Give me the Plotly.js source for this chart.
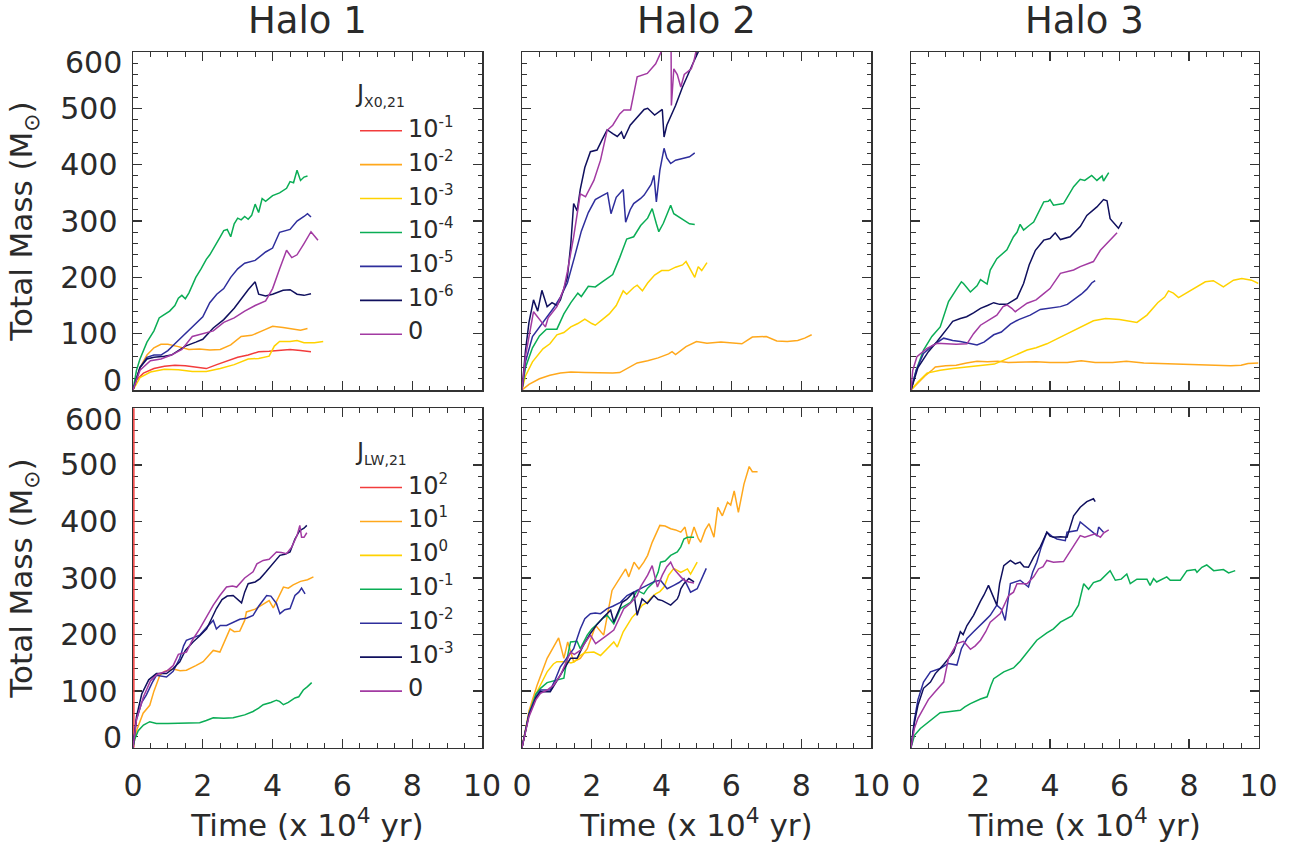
<!DOCTYPE html>
<html>
<head>
<meta charset="utf-8">
<script src="https://cdn.plot.ly/plotly-3.0.1.min.js"></script>
<style>body{margin:0;background:#fff}#chart{width:1297px;height:846px}</style>
</head>
<body>
<div id="chart"></div>
<script>
// ---------- DATA: [time (x10^4 yr), total mass (Msun)] ----------
// Top row: J_X0,21 runs
const H1_X_1em1 = [[0,0],[0.1,18],[0.3,30],[0.6,38],[0.9,42],[1.2,44],[1.5,43],[1.8,40],[2.1,38],[2.4,45],[2.7,52],[3.0,58],[3.3,62],[3.6,68],[3.9,69],[4.2,71],[4.5,72],[4.8,70],[5.1,68]];
const H1_X_1em2 = [[0,0],[0.2,40],[0.4,62],[0.6,75],[0.8,81],[1.0,81],[1.3,77],[1.6,72],[1.9,73],[2.2,71],[2.5,72],[2.8,80],[3.1,95],[3.4,97],[3.7,105],[4.0,113],[4.3,111],[4.6,108],[4.8,106],[5.0,109]];
const H1_X_1em3 = [[0,0],[0.2,22],[0.5,32],[0.9,37],[1.3,36],[1.7,33],[2.1,33],[2.5,38],[2.9,45],[3.3,55],[3.6,56],[3.9,60],[4.05,78],[4.2,86],[4.5,86],[4.7,88],[4.9,84],[5.2,84],[5.45,86]];
const H1_X_1em4 = [[0,0],[0.1,35],[0.2,55],[0.4,85],[0.6,105],[0.75,128],[0.85,132],[1.05,140],[1.2,150],[1.3,163],[1.4,168],[1.5,162],[1.6,172],[1.8,200],[1.95,215],[2.1,232],[2.2,240],[2.3,250],[2.4,260],[2.5,272],[2.6,283],[2.7,285],[2.8,272],[2.9,295],[3.0,305],[3.1,302],[3.2,308],[3.3,303],[3.4,310],[3.5,330],[3.6,315],[3.7,340],[3.8,335],[3.9,340],[4.0,345],[4.2,350],[4.4,358],[4.5,370],[4.6,368],[4.7,390],[4.8,372],[4.9,378],[5.0,380]];
const H1_X_1em5 = [[0,0],[0.2,40],[0.4,58],[0.6,62],[0.8,62],[1.0,70],[1.2,82],[1.5,100],[1.8,118],[2.0,130],[2.2,155],[2.4,170],[2.6,180],[2.8,200],[3.0,215],[3.2,225],[3.5,230],[3.8,245],[4.0,252],[4.2,280],[4.5,285],[4.7,300],[4.9,308],[5.0,313],[5.1,307]];
const H1_X_1em6 = [[0,0],[0.2,40],[0.4,55],[0.6,58],[0.9,60],[1.1,62],[1.3,70],[1.5,78],[1.8,85],[2.0,90],[2.3,110],[2.6,125],[2.9,145],[3.1,162],[3.3,178],[3.5,192],[3.6,170],[3.8,167],[4.0,170],[4.3,177],[4.5,178],[4.7,170],[4.9,168],[5.1,171]];
const H1_X_0 = [[0,0],[0.2,35],[0.5,52],[0.8,55],[1.1,62],[1.4,72],[1.7,95],[2.0,100],[2.3,105],[2.6,120],[2.9,128],[3.2,140],[3.5,150],[3.8,158],[4.0,180],[4.2,215],[4.4,248],[4.55,235],[4.7,240],[4.9,260],[5.1,281],[5.3,266]];

const H2_X_1em2 = [[0,0],[0.2,10],[0.5,20],[0.8,26],[1.1,30],[1.4,32],[1.8,31],[2.2,30],[2.6,30],[2.8,31],[3.0,38],[3.3,48],[3.6,52],[3.9,57],[4.2,64],[4.3,68],[4.4,63],[4.7,77],[5.0,86],[5.3,83],[5.7,85],[6.0,83],[6.3,82],[6.6,94],[7.0,95],[7.3,87],[7.6,86],[7.9,88],[8.1,92],[8.3,98]];
const H2_X_1em3 = [[0,0],[0.1,25],[0.3,50],[0.6,73],[0.8,82],[1.0,98],[1.2,102],[1.4,112],[1.6,118],[1.8,126],[2.0,118],[2.1,115],[2.3,125],[2.5,135],[2.7,150],[2.9,176],[3.0,170],[3.2,182],[3.3,186],[3.45,176],[3.6,190],[3.8,204],[4.0,212],[4.2,212],[4.4,218],[4.6,222],[4.7,228],[4.85,212],[4.95,200],[5.05,219],[5.15,212],[5.3,226]];
const H2_X_1em4 = [[0,0],[0.1,40],[0.3,75],[0.5,96],[0.7,108],[1.0,108],[1.2,135],[1.4,155],[1.6,172],[1.7,166],[1.9,184],[2.1,183],[2.3,192],[2.6,205],[2.8,235],[3.0,268],[3.2,272],[3.4,292],[3.6,305],[3.73,322],[3.85,295],[3.92,281],[4.05,296],[4.2,318],[4.26,328],[4.35,313],[4.6,303],[4.8,295],[4.95,294]];
const H2_X_1em5 = [[0,0],[0.1,50],[0.3,95],[0.5,112],[0.7,128],[0.9,145],[1.1,165],[1.3,190],[1.5,235],[1.7,282],[1.9,315],[2.1,338],[2.3,345],[2.45,350],[2.55,313],[2.7,342],[2.9,356],[2.97,298],[3.1,320],[3.2,331],[3.4,340],[3.5,346],[3.7,365],[3.78,381],[3.85,334],[3.95,390],[4.07,429],[4.15,412],[4.26,402],[4.4,408],[4.6,411],[4.8,414],[4.95,421]];
const H2_X_1em6 = [[0,0],[0.1,70],[0.2,120],[0.33,160],[0.45,140],[0.57,177],[0.72,148],[0.86,155],[1.0,150],[1.1,160],[1.3,200],[1.4,260],[1.48,331],[1.58,318],[1.67,356],[1.8,395],[1.96,423],[2.15,426],[2.3,445],[2.44,462],[2.6,455],[2.73,450],[2.85,458],[2.92,446],[3.1,470],[3.3,485],[3.5,498],[3.6,500],[3.8,488],[4.02,498],[4.07,449],[4.15,470],[4.26,485],[4.4,505],[4.6,538],[4.8,564],[4.9,580],[5.05,600],[5.15,620]];
const H2_X_0 = [[0,0],[0.1,60],[0.33,139],[0.5,125],[0.67,112],[0.75,128],[1.0,148],[1.2,180],[1.3,210],[1.48,272],[1.67,348],[1.82,343],[2.06,372],[2.25,408],[2.44,461],[2.6,470],[2.8,490],[2.92,497],[3.11,497],[3.3,556],[3.59,562],[3.83,579],[3.97,598],[4.1,620],[4.27,630],[4.28,505],[4.35,570],[4.45,560],[4.55,538],[4.65,560],[4.74,565],[4.85,570],[4.93,585],[5.05,620]];

const H3_X_1em2 = [[0,0],[0.2,12],[0.4,25],[0.6,35],[0.7,41],[1.0,43],[1.3,44],[1.6,48],[1.9,51],[2.2,50],[2.5,51],[2.8,49],[3.2,50],[3.6,50],[4.0,49],[4.5,49],[4.9,52],[5.3,49],[5.8,49],[6.2,51],[6.7,48],[7.2,47],[7.7,46],[8.2,45],[8.7,44],[9.2,43],[9.5,44],[9.7,47],[10,48]];
const H3_X_1em3 = [[0,0],[0.2,14],[0.46,30],[0.84,35],[1.2,38],[1.6,41],[2.0,43],[2.4,46],[2.67,53],[3.0,62],[3.34,71],[3.6,75],[3.91,82],[4.3,94],[4.68,106],[5.0,116],[5.25,123],[5.6,127],[6.0,125],[6.5,120],[6.79,133],[7.1,155],[7.3,165],[7.41,176],[7.55,172],[7.7,164],[8.03,176],[8.47,192],[8.7,194],[8.99,183],[9.28,195],[9.52,198],[9.8,195],[10,189]];
const H3_X_1em4 = [[0,0],[0.15,35],[0.36,71],[0.6,95],[0.84,112],[1.0,140],[1.08,157],[1.32,180],[1.45,192],[1.51,189],[1.71,174],[1.9,185],[2.0,196],[2.19,188],[2.28,213],[2.47,233],[2.76,249],[2.95,272],[3.05,280],[3.14,294],[3.24,284],[3.4,292],[3.53,298],[3.82,334],[3.95,335],[4.0,338],[4.1,328],[4.39,331],[4.68,361],[4.87,374],[5.0,372],[5.2,381],[5.35,372],[5.5,380],[5.54,371],[5.69,386]];
const H3_X_1em5 = [[0,0],[0.15,35],[0.36,65],[0.6,78],[0.94,92],[1.2,88],[1.42,86],[1.7,82],[1.9,80],[2.1,85],[2.38,98],[2.6,103],[2.86,117],[3.1,125],[3.43,133],[3.72,143],[4.0,146],[4.3,148],[4.5,152],[4.68,160],[4.9,170],[5.06,179],[5.2,190],[5.3,194]];
const H3_X_1em6 = [[0,0],[0.2,40],[0.5,68],[0.75,86],[1.08,112],[1.2,122],[1.42,127],[1.6,130],[1.8,137],[2.0,145],[2.2,150],[2.38,155],[2.55,152],[2.76,152],[3.05,163],[3.24,189],[3.4,222],[3.58,248],[3.82,266],[4.0,269],[4.15,279],[4.3,267],[4.58,272],[4.87,290],[5.06,310],[5.35,325],[5.54,338],[5.64,336],[5.73,304],[5.97,287],[6.07,298]];
const H3_X_0 = [[0,0],[0.05,35],[0.17,59],[0.46,74],[0.75,83],[1.04,82],[1.3,81],[1.61,82],[1.8,100],[2.0,115],[2.2,122],[2.47,133],[2.65,148],[2.76,151],[2.9,145],[3.0,139],[3.34,154],[3.6,160],[3.82,171],[4.0,180],[4.3,207],[4.5,210],[4.68,213],[4.87,219],[5.25,228],[5.45,248],[5.7,265],[5.93,279]];

// Bottom row: J_LW,21 runs
const H1_LW_1e2 = [[0.025,0],[0.025,650]];
const H1_LW_1e1 = [[0,0],[0.1,30],[0.29,61],[0.48,75],[0.6,100],[0.77,128],[0.9,135],[1.15,139],[1.35,136],[1.53,137],[1.8,145],[2.01,152],[2.2,165],[2.3,172],[2.49,169],[2.6,185],[2.78,210],[2.9,205],[3.06,206],[3.2,225],[3.25,240],[3.5,245],[3.73,254],[3.9,260],[4.02,247],[4.11,258],[4.2,270],[4.31,284],[4.45,282],[4.59,288],[4.8,294],[5.0,297],[5.17,302]];
const H1_LW_1em1 = [[0,0],[0.05,15],[0.15,30],[0.3,40],[0.48,46],[0.67,43],[1.0,43],[1.44,44],[1.91,44],[2.1,48],[2.3,53],[2.6,52],[2.87,53],[3.2,58],[3.44,64],[3.6,70],[3.73,76],[3.95,80],[4.11,84],[4.2,82],[4.31,76],[4.45,80],[4.64,88],[4.75,90],[4.88,102],[5.0,108],[5.12,115]];
const H1_LW_1em2 = [[0,0],[0.1,50],[0.25,80],[0.38,93],[0.55,115],[0.67,128],[0.96,125],[1.15,135],[1.34,158],[1.45,180],[1.53,190],[1.7,194],[1.91,199],[2.1,212],[2.3,225],[2.39,210],[2.5,216],[2.68,216],[2.9,222],[3.06,227],[3.25,229],[3.44,234],[3.6,250],[3.83,269],[3.95,268],[4.11,255],[4.21,237],[4.35,244],[4.5,246],[4.64,269],[4.75,275],[4.83,282],[4.93,272]];
const H1_LW_1em3 = [[0,0],[0.1,55],[0.25,95],[0.45,120],[0.67,131],[0.96,131],[1.15,140],[1.34,152],[1.5,172],[1.72,187],[1.9,197],[2.11,210],[2.25,228],[2.39,246],[2.55,262],[2.7,268],[2.87,269],[3.0,262],[3.11,256],[3.2,275],[3.3,290],[3.5,293],[3.64,299],[3.8,310],[3.92,319],[4.05,330],[4.21,340],[4.35,342],[4.5,346],[4.64,369],[4.78,384],[4.9,388],[4.98,393]];
const H1_LW_0 = [[0,0],[0.1,50],[0.3,90],[0.5,118],[0.7,130],[0.96,135],[1.15,145],[1.3,165],[1.53,169],[1.7,190],[1.91,210],[2.1,230],[2.3,252],[2.5,270],[2.68,284],[2.85,286],[2.97,284],[3.2,300],[3.44,311],[3.55,325],[3.73,331],[3.9,333],[4.11,346],[4.25,345],[4.4,343],[4.55,355],[4.7,375],[4.78,393],[4.83,372],[4.9,372],[4.98,380]];

const H2_LW_1e1 = [[0,0],[0.2,65],[0.43,110],[0.72,158],[1.05,194],[1.2,158],[1.31,187],[1.48,152],[1.67,158],[1.87,175],[2.11,216],[2.34,199],[2.58,278],[2.8,300],[2.97,316],[3.06,302],[3.21,328],[3.35,316],[3.49,328],[3.6,340],[3.73,363],[3.95,393],[4.1,392],[4.26,387],[4.4,385],[4.55,381],[4.67,390],[4.78,360],[4.93,390],[5.05,370],[5.12,363],[5.25,385],[5.36,396],[5.5,372],[5.61,425],[5.74,410],[5.89,434],[5.98,429],[6.08,454],[6.2,416],[6.36,466],[6.51,497],[6.6,488],[6.75,488]];
const H2_LW_1e0 = [[0,0],[0.2,60],[0.43,99],[0.72,134],[0.9,148],[1.0,152],[1.29,152],[1.4,150],[1.5,152],[1.67,163],[1.8,168],[2.06,169],[2.25,163],[2.45,175],[2.63,187],[2.73,178],[2.9,205],[3.01,216],[3.15,230],[3.3,240],[3.45,252],[3.59,257],[3.7,265],[3.83,272],[3.95,276],[4.07,284],[4.2,305],[4.35,317],[4.55,310],[4.74,316],[4.83,307],[5.02,328]];
const H2_LW_1em1 = [[0,0],[0.2,60],[0.4,95],[0.53,105],[0.72,115],[1.0,119],[1.2,123],[1.3,160],[1.39,187],[1.58,188],[1.67,175],[1.87,199],[2.0,210],[2.11,216],[2.3,228],[2.44,234],[2.63,219],[2.82,246],[3.0,252],[3.11,257],[3.3,278],[3.49,272],[3.6,282],[3.78,293],[3.9,310],[3.97,328],[4.1,330],[4.26,340],[4.45,346],[4.55,355],[4.64,369],[4.74,372],[4.93,372]];
const H2_LW_1em2 = [[0,0],[0.2,60],[0.4,90],[0.53,102],[0.81,102],[0.95,120],[1.1,143],[1.3,160],[1.48,175],[1.67,210],[1.8,228],[1.96,237],[2.1,238],[2.25,237],[2.44,246],[2.6,250],[2.82,257],[3.01,269],[3.2,275],[3.4,280],[3.59,287],[3.8,294],[3.97,296],[4.16,281],[4.35,287],[4.5,292],[4.64,299],[4.75,285],[4.83,275],[5.02,281],[5.17,302],[5.28,317]];
const H2_LW_1em3 = [[0,0],[0.2,58],[0.4,88],[0.53,99],[0.81,99],[1.0,118],[1.2,140],[1.39,158],[1.58,158],[1.75,180],[1.96,202],[2.15,218],[2.34,231],[2.54,243],[2.63,222],[2.75,240],[2.87,257],[3.0,262],[3.2,275],[3.3,234],[3.44,263],[3.59,255],[3.78,269],[3.9,262],[4.02,260],[4.26,252],[4.45,263],[4.5,270],[4.55,281],[4.64,290],[4.78,299],[4.93,293]];
const H2_LW_0 = [[0,0],[0.2,55],[0.4,85],[0.53,96],[0.72,102],[0.9,110],[1.1,128],[1.25,150],[1.39,169],[1.5,165],[1.67,172],[1.8,185],[1.96,199],[2.11,184],[2.3,192],[2.44,199],[2.63,208],[2.75,225],[2.92,246],[3.1,255],[3.3,269],[3.4,285],[3.49,293],[3.6,305],[3.73,322],[3.88,284],[4.02,305],[4.15,320],[4.26,328],[4.35,316],[4.55,302],[4.65,296],[4.78,293],[4.93,291]];

const H3_LW_1em1 = [[0,0],[0.1,22],[0.27,34],[0.45,43],[0.65,52],[0.84,62],[1.13,64],[1.42,66],[1.55,72],[1.71,78],[2.0,86],[2.19,90],[2.3,110],[2.38,122],[2.67,134],[2.95,141],[3.14,153],[3.3,165],[3.43,175],[3.62,190],[3.91,203],[4.1,210],[4.3,222],[4.63,233],[4.82,252],[4.97,290],[5.11,280],[5.25,292],[5.45,296],[5.6,305],[5.73,313],[5.88,296],[6.05,298],[6.21,307],[6.31,290],[6.5,298],[6.79,298],[6.88,287],[6.98,299],[7.07,293],[7.2,297],[7.36,302],[7.46,296],[7.75,296],[7.94,313],[8.18,315],[8.23,310],[8.37,319],[8.51,323],[8.71,313],[8.99,315],[9.14,309],[9.33,313]];
const H3_LW_1em2 = [[0,0],[0.1,50],[0.2,85],[0.36,116],[0.56,134],[0.84,140],[1.08,149],[1.32,146],[1.45,175],[1.61,193],[1.8,205],[2.0,218],[2.15,226],[2.28,234],[2.47,252],[2.6,245],[2.71,225],[2.86,290],[3.0,293],[3.14,296],[3.38,284],[3.5,310],[3.62,328],[3.75,355],[3.91,381],[4.05,374],[4.2,369],[4.44,366],[4.49,381],[4.65,382],[4.78,384],[4.87,399],[5.06,390],[5.25,381],[5.35,375],[5.4,390],[5.54,381]];
const H3_LW_1em3 = [[0,0],[0.1,45],[0.2,75],[0.36,105],[0.56,116],[0.7,131],[0.94,147],[1.1,160],[1.23,169],[1.42,205],[1.5,200],[1.61,216],[1.8,234],[2.0,259],[2.1,270],[2.23,287],[2.35,270],[2.47,252],[2.55,290],[2.67,322],[2.86,331],[3.0,325],[3.14,328],[3.25,320],[3.38,319],[3.53,337],[3.72,355],[3.91,381],[4.0,374],[4.1,372],[4.3,373],[4.49,372],[4.68,410],[4.8,420],[4.87,425],[5.06,435],[5.25,440],[5.3,435]];
const H3_LW_0 = [[0,0],[0.1,35],[0.2,52],[0.36,69],[0.5,85],[0.65,96],[0.94,116],[1.08,158],[1.2,172],[1.32,184],[1.51,188],[1.71,174],[1.85,180],[2.0,190],[2.15,205],[2.28,222],[2.57,237],[2.7,255],[2.81,269],[2.95,275],[3.05,290],[3.34,290],[3.53,302],[3.67,316],[3.8,320],[3.91,331],[4.1,328],[4.39,329],[4.5,340],[4.68,357],[4.87,375],[5.0,372],[5.16,375],[5.3,378],[5.45,372],[5.55,380],[5.69,385]];

// Labels / legend entries
const haloTitles = ['Halo 1', 'Halo 2', 'Halo 3'];
const xLegendTitle = 'J<sub><span style="font-size:14px">X0,21</span></sub>';
const lwLegendTitle = 'J<sub><span style="font-size:14px">LW,21</span></sub>';
const xLabels = ['10<sup><span style="font-size:15px">-1</span></sup>','10<sup><span style="font-size:15px">-2</span></sup>','10<sup><span style="font-size:15px">-3</span></sup>','10<sup><span style="font-size:15px">-4</span></sup>','10<sup><span style="font-size:15px">-5</span></sup>','10<sup><span style="font-size:15px">-6</span></sup>','0'];
const lwLabels = ['10<sup><span style="font-size:15px">2</span></sup>','10<sup><span style="font-size:15px">1</span></sup>','10<sup><span style="font-size:15px">0</span></sup>','10<sup><span style="font-size:15px">-1</span></sup>','10<sup><span style="font-size:15px">-2</span></sup>','10<sup><span style="font-size:15px">-3</span></sup>','0'];
const xTickVals = [0,2,4,6,8,10];
const yTickVals = [100,200,300,400,500];
const yEndLabels = [0,600];
const xTitle = 'Time (x 10<sup>4</sup> yr)';
const yTitle = 'Total Mass (M<sub>⊙</sub>)';

// ---------- STYLE ----------
const COLORS = ['#f23c3c','#ffa81c','#ffd200','#0aad55','#2e2e9c','#10105e','#a23aa2'];
const FONT = 'DejaVu Sans, sans-serif';
const TXT = '#2a2a2a';
const W = 1297, H = 846;
const colPx = [[133,482],[522,871],[911,1258.5]];
const rowPx = [[52,390],[408.3,747.7]];

const topRuns = [
  [H1_X_1em1,H1_X_1em2,H1_X_1em3,H1_X_1em4,H1_X_1em5,H1_X_1em6,H1_X_0],
  [null,H2_X_1em2,H2_X_1em3,H2_X_1em4,H2_X_1em5,H2_X_1em6,H2_X_0],
  [null,H3_X_1em2,H3_X_1em3,H3_X_1em4,H3_X_1em5,H3_X_1em6,H3_X_0]
];
const botRuns = [
  [H1_LW_1e2,H1_LW_1e1,null,H1_LW_1em1,H1_LW_1em2,H1_LW_1em3,H1_LW_0],
  [null,H2_LW_1e1,H2_LW_1e0,H2_LW_1em1,H2_LW_1em2,H2_LW_1em3,H2_LW_0],
  [null,null,null,H3_LW_1em1,H3_LW_1em2,H3_LW_1em3,H3_LW_0]
];

const traces = [];
function addTraces(runs, row, labels) {
  runs.forEach((series, col) => {
    const idx = row * 3 + col + 1;
    const xa = 'x' + (idx === 1 ? '' : idx), ya = 'y' + (idx === 1 ? '' : idx);
    series.forEach((d, k) => {
      if (!d) return;
      traces.push({
        type: 'scatter', mode: 'lines',
        x: d.map(p => p[0]), y: d.map(p => p[1]),
        xaxis: xa, yaxis: ya,
        name: labels[k],
        line: {color: COLORS[k], width: 1.5},
        showlegend: false,
        hoverinfo: 'skip'
      });
    });
  });
}
addTraces(topRuns, 0, xLabels);
addTraces(botRuns, 1, lwLabels);

const layout = {
  width: W, height: H, autosize: false,
  margin: {l: 0, r: 0, t: 0, b: 0},
  paper_bgcolor: '#fff', plot_bgcolor: '#fff',
  font: {family: FONT, color: TXT},
  annotations: [], shapes: [], showlegend: false
};

function axisBase() {
  return {
    showgrid: false, zeroline: false, layer: 'below traces',
    showline: true, linecolor: '#333', linewidth: 1.5,
    mirror: 'ticks', ticks: 'inside', ticklen: 9, tickwidth: 1.3, tickcolor: '#333',
    tickfont: {family: FONT, size: 30, color: TXT}
  };
}

for (let r = 0; r < 2; r++) {
  for (let c = 0; c < 3; c++) {
    const idx = r * 3 + c + 1;
    const sfx = idx === 1 ? '' : idx;
    const xd = [colPx[c][0] / W, colPx[c][1] / W];
    const yd = [(H - rowPx[r][1]) / H, (H - rowPx[r][0]) / H];
    const xa = Object.assign(axisBase(), {
      domain: xd, anchor: 'y' + sfx, range: [0, 10],
      tickmode: 'array', tickvals: xTickVals, ticktext: xTickVals.map(String),
      minor: {dtick: 0.5, tick0: 0, ticks: 'inside', ticklen: 4.5, tickwidth: 1, tickcolor: '#333'},
      showticklabels: r === 1, ticklabelstandoff: 11
    });
    if (r === 1) xa.title = {text: xTitle, font: {family: FONT, size: 31, color: TXT}, standoff: 0};
    const ya = Object.assign(axisBase(), {
      domain: yd, anchor: 'x' + sfx, range: [0, 600],
      tickmode: 'array', tickvals: yTickVals, ticktext: yTickVals.map(String),
      minor: {dtick: 20, tick0: 0, ticks: 'inside', ticklen: 4.5, tickwidth: 1, tickcolor: '#333'},
      showticklabels: c === 0, ticklabelstandoff: 8
    });
    if (c === 0) {
      ya.title = {text: yTitle, font: {family: FONT, size: 31, color: TXT}, standoff: 18};
      // end labels (0 and 600) nudged inside the frame as in the original
      yEndLabels.forEach(v => {
        layout.annotations.push({xref: 'x' + sfx + ' domain', yref: 'y' + sfx, x: 0, y: v, text: String(v),
          showarrow: false, xanchor: 'right', yanchor: 'middle', xshift: -9, yshift: v === 0 ? 10 : -11,
          font: {family: FONT, size: 30, color: TXT}});
      });
    }
    layout['xaxis' + sfx] = xa;
    layout['yaxis' + sfx] = ya;
  }
}

haloTitles.forEach((t, c) => {
  layout.annotations.push({xref: 'paper', yref: 'paper', x: (colPx[c][0] + colPx[c][1]) / 2 / W, y: 1 - 20 / H,
    text: t, showarrow: false, xanchor: 'center', yanchor: 'middle',
    font: {family: FONT, size: 37, color: TXT}});
});

// Legend key (drawn in the first panel of each row)
function addKey(title, labels, titlePx, firstRowPx) {
  layout.annotations.push({xref: 'paper', yref: 'paper', x: 353 / W, y: 1 - titlePx / H,
    text: title, showarrow: false, xanchor: 'left', yanchor: 'middle',
    font: {family: FONT, size: 24, color: TXT}});
  labels.forEach((lab, k) => {
    const yp = 1 - (firstRowPx + 33.93 * k) / H;
    layout.shapes.push({type: 'line', xref: 'paper', yref: 'paper',
      x0: 360 / W, x1: 402 / W, y0: yp, y1: yp, line: {color: COLORS[k], width: 1.6}});
    layout.annotations.push({xref: 'paper', yref: 'paper', x: 406 / W, y: yp,
      text: lab, showarrow: false, xanchor: 'left', yanchor: 'middle', yshift: 3,
      font: {family: FONT, size: 24, color: TXT}});
  });
}
addKey(xLegendTitle, xLabels, 95, 130.7);
addKey(lwLegendTitle, lwLabels, 453, 487.5);

Plotly.newPlot('chart', traces, layout, {staticPlot: true, displayModeBar: false});
</script>
</body>
</html>
